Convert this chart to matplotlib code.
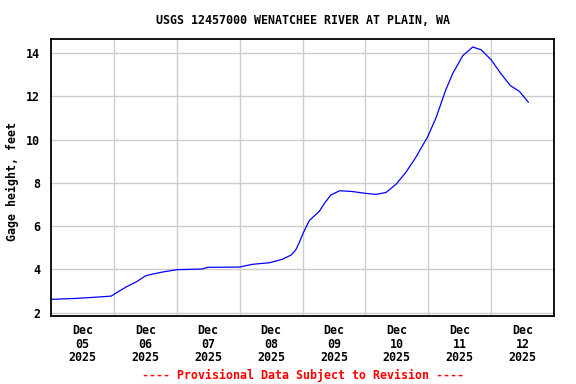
import matplotlib
matplotlib.use("Agg")
import matplotlib.pyplot as plt
import pandas as pd

title = "USGS 12457000 WENATCHEE RIVER AT PLAIN, WA"
ylabel = "Gage height, feet"
footer = "---- Provisional Data Subject to Revision ----"
start = "2025-12-05 00:00"
hours = [0, 9.1, 17.3, 23, 24, 28.8, 32.6, 36, 38.2, 42.5, 48, 57.6, 59.8, 71.8,
         77, 83.3, 88.3, 91.7, 93.4, 94.8, 96.2, 98.6, 102.5, 104.4, 106.8, 110.2,
         115.2, 119.8, 124.1, 127.9, 131.8, 135.4, 139.2, 143.8, 146.9, 150.7,
         153.4, 157.2, 161, 164.2, 168, 171.6, 175.4, 178.8, 182.2]
values = [2.62, 2.66, 2.72, 2.77, 2.85, 3.2, 3.43, 3.70, 3.77, 3.88, 3.99, 4.02,
          4.1, 4.11, 4.24, 4.31, 4.47, 4.67, 4.9, 5.25, 5.67, 6.26, 6.7, 7.06, 7.44,
          7.64, 7.6, 7.52, 7.47, 7.56, 7.95, 8.48, 9.17, 10.14, 10.99, 12.3, 13.07,
          13.88, 14.28, 14.15, 13.69, 13.07, 12.49, 12.23, 11.73]
yticks = [2, 4, 6, 8, 10, 12, 14]

font = dict(family="DejaVu Sans Mono", weight="bold", size=8.4)

t0 = pd.Timestamp(start)
times = [t0 + pd.Timedelta(hours=h) for h in hours]

fig = plt.figure(figsize=(5.76, 3.84), dpi=100)
ax = fig.add_axes([51/576, 1-316/384, 503/576, 277/384])
ax.plot(times, values, color="#0000ff", linewidth=0.9)

ax.set_xlim(t0, t0 + pd.Timedelta(days=8))
ax.set_ylim(1.85, 14.65)

days = [t0 + pd.Timedelta(days=d) for d in range(8)]
ax.set_xticks([d + pd.Timedelta(hours=12) for d in days])
ax.set_xticklabels([d.strftime("%b\n%d\n%Y") for d in days], linespacing=1.02, **font)
ax.set_xticks([t0 + pd.Timedelta(days=d) for d in range(1, 8)], minor=True)
ax.set_yticks(yticks)
ax.set_yticklabels([str(v) for v in yticks], **font)
ax.tick_params(axis="both", which="both", length=0)
ax.tick_params(axis="x", pad=6)
ax.tick_params(axis="y", pad=8)
ax.grid(True, which="minor", axis="x", color="#cccccc", linewidth=1)
ax.grid(True, which="major", axis="y", color="#cccccc", linewidth=1)
ax.set_axisbelow(True)
for s in ax.spines.values():
    s.set_linewidth(1.3)
    s.set_color("black")

fig.text(12/576, 1-182/384, ylabel, rotation=90, ha="center", va="center", **font)

cx = (51 + 554) / 2 / 576
fig.text(cx, 1-20/384, title, ha="center", va="center", **font)
fig.text(cx, 1-375/384, footer, ha="center", va="center", color="#ff0000", **font)

fig.savefig("out.png", dpi=100)
